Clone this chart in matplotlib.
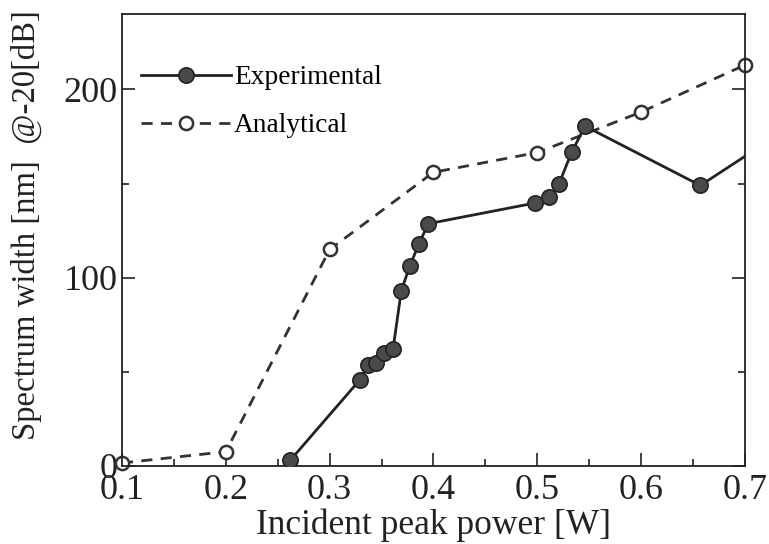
import matplotlib
matplotlib.use("Agg")
import matplotlib.pyplot as plt
from matplotlib.ticker import MultipleLocator

plt.rcParams['font.family'] = ['Liberation Serif', 'DejaVu Serif']
plt.rcParams['mathtext.fontset'] = 'stix'

exp_x = [0.262, 0.329, 0.337, 0.345, 0.352, 0.361, 0.369, 0.377, 0.386, 0.395,
         0.498, 0.511, 0.521, 0.533, 0.546, 0.657, 0.70]
exp_y = [3, 45.7, 53.7, 54.6, 60, 62, 93, 106, 118, 128.7,
         139.7, 143, 150, 166.6, 180.5, 149, 164.5]
ana_x = [0.1, 0.2, 0.3, 0.4, 0.5, 0.6, 0.7]
ana_y = [1.6, 7.6, 115, 156, 166.5, 188, 213]

fig = plt.figure(figsize=(7.69, 5.44), dpi=100)
ax = fig.add_axes([0.1586, 0.1434, 0.8102, 0.8306])

ax.plot(exp_x, exp_y, '-', color='#222222', lw=2.0, marker='o', ms=11,
        mfc='#4a4a4a', mec='#222222', mew=1.2,
        markevery=list(range(len(exp_x) - 1)), label='Experimental', zorder=3)
ax.plot(ana_x, ana_y, '--', color='#333333', lw=2.0, dashes=(4, 3), marker='o', ms=9.5,
        mfc='white', mec='#333333', mew=1.8, label='Analytical', zorder=2, clip_on=False)

ax.set_xlim(0.1, 0.7)
ax.set_ylim(0, 240)
ax.xaxis.set_minor_locator(MultipleLocator(0.05))
ax.yaxis.set_major_locator(MultipleLocator(100))
ax.yaxis.set_minor_locator(MultipleLocator(50))
ax.set_xticks([0.1, 0.2, 0.3, 0.4, 0.5, 0.6, 0.7])
ax.set_xticklabels(['0.1', '0.2', '0.3', '0.4', '0.5', '0.6', '0.7'])
ax.tick_params(which='both', direction='in', right=True, labelsize=26, width=1.2, colors='#222222')
ax.tick_params(which='major', length=9.5)
ax.tick_params(axis='x', which='major', pad=6)
ax.tick_params(axis='y', which='major', pad=3)
ax.tick_params(which='minor', length=5)
for s in ax.spines.values():
    s.set_linewidth(1.3)
    s.set_color('#222222')

ax.set_xlabel('Incident peak power [W]', fontsize=25.5, labelpad=1, color='#222222')
ax.set_ylabel('Spectrum width [nm]  @-20[dB]', fontsize=23.6, color='#222222')
ax.yaxis.set_label_coords(-0.128, 0.533)

leg = ax.legend(loc='upper left', bbox_to_anchor=(0.0, 0.93), frameon=False, fontsize=19.7,
                handlelength=3.3, handletextpad=0.1, labelspacing=0.85, borderaxespad=0.3)

fig.savefig('out.png', dpi=100)
